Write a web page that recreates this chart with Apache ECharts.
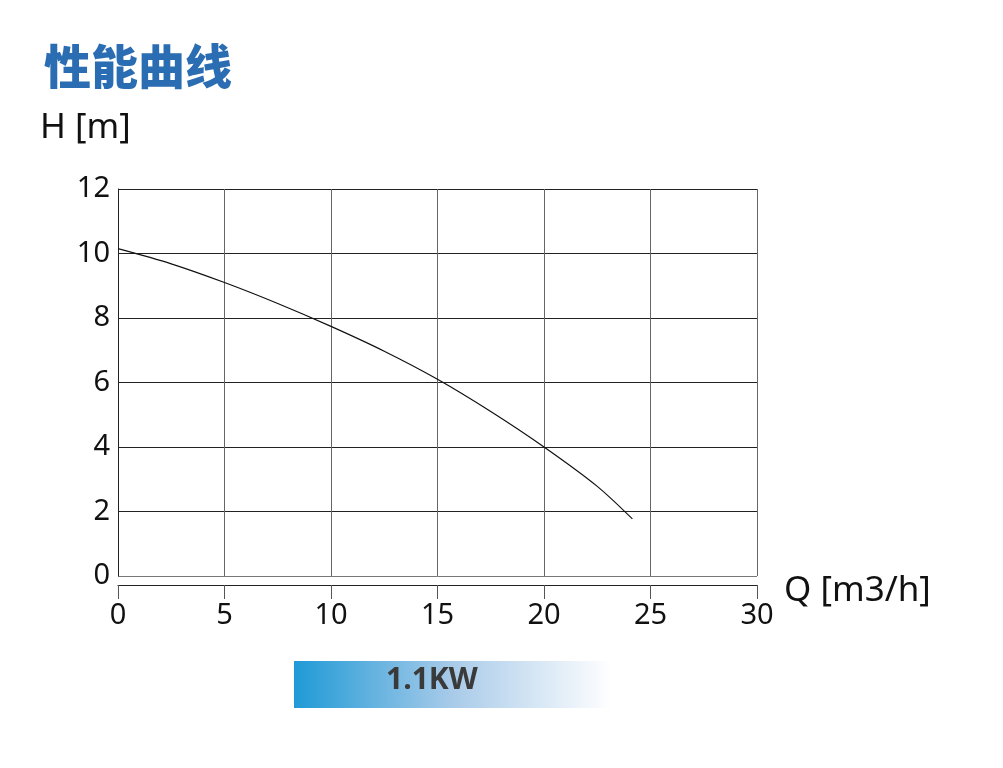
<!DOCTYPE html>
<html>
<head>
<meta charset="utf-8">
<script src="https://cdn.jsdelivr.net/npm/echarts@6/dist/echarts.min.js"></script>
<style>
html, body { margin: 0; padding: 0; background: #fff; }
#curve { width: 1003px; height: 768px; }
</style>
</head>
<body>
<div id="curve"></div>
<script>
// 性能曲线 Q-H
var flowQ = [0, 2.5, 5, 7.5, 10, 12.5, 15, 17.5, 20, 22.5, 24.15];
var headH = [10.15, 9.68, 9.1, 8.45, 7.74, 6.97, 6.1, 5.1, 4.0, 2.78, 1.77];
var xTicks = [0, 5, 10, 15, 20, 25, 30];
var yTicks = [0, 2, 4, 6, 8, 10, 12];
var powerLabel = '1.1KW';

(function() {
	var chart = echarts.init(document.getElementById('curve'));
	var pts = [];
	for (var i = 0; i < flowQ.length; i++) {
		pts.push([flowQ[i], headH[i]]);
	}
	var numFont = '"Noto Sans", "Open Sans", sans-serif';

	option = {
		backgroundColor: '#fff',
		animation: false,
		title: {
			text: '性能曲线',
			left: 39,
			top: 38,
			textStyle: {
				fontFamily: '"Noto Sans CJK SC"',
				fontWeight: 900,
				fontSize: 47,
				color: '#2a6db2'
			}
		},
		grid: {
			left: 118,
			top: 189,
			right: 246,
			bottom: 192
		},
		xAxis: {
			type: 'value',
			min: xTicks[0],
			max: xTicks[xTicks.length - 1],
			interval: 5,
			offset: 9,
			axisLine: { show: true, onZero: false, lineStyle: { color: '#222', width: 1 } },
			axisTick: { show: true, inside: false, length: 14, lineStyle: { color: '#555', width: 1 } },
			axisLabel: {
				margin: 16,
				fontFamily: numFont,
				fontSize: 29,
				color: '#111'
			},
			splitLine: { show: true, lineStyle: { color: '#666', width: 1 } }
		},
		yAxis: {
			type: 'value',
			min: yTicks[0],
			max: yTicks[yTicks.length - 1],
			interval: 2,
			axisLine: { show: true, onZero: false, lineStyle: { color: '#222', width: 1 } },
			axisTick: { show: false },
			axisLabel: {
				margin: 8,
				fontFamily: numFont,
				fontSize: 29,
				color: '#111'
			},
			splitLine: {
				show: true,
				lineStyle: { color: ['#777', '#222', '#222', '#222', '#222', '#222', '#222'], width: 1 }
			}
		},
		graphic: [
			{
				type: 'text',
				left: 40,
				top: 111,
				style: { text: 'H [m]', font: '35px "Noto Sans", sans-serif', fill: '#111' }
			},
			{
				type: 'text',
				left: 784,
				top: 574,
				style: { text: 'Q [m3/h]', font: '35px "Noto Sans", sans-serif', fill: '#111' }
			},
			{
				type: 'rect',
				left: 294,
				top: 661,
				shape: { width: 318, height: 47 },
				style: {
					fill: new echarts.graphic.LinearGradient(0, 0, 1, 0, [
						{ offset: 0, color: '#1f9ad6' },
						{ offset: 0.5, color: '#a9cbe9' },
						{ offset: 1, color: '#ffffff' }
					])
				}
			},
			{
				type: 'text',
				left: 386,
				top: 665,
				style: { text: powerLabel, font: 'bold 30px "Open Sans", "Noto Sans", sans-serif', fill: '#3a3a3a' }
			}
		],
		series: [{
			name: 'H',
			type: 'line',
			smooth: 0.3,
			showSymbol: false,
			lineStyle: { color: '#111', width: 1.2 },
			data: pts
		}]
	};

	chart.setOption(option);
})();
</script>
</body>
</html>
